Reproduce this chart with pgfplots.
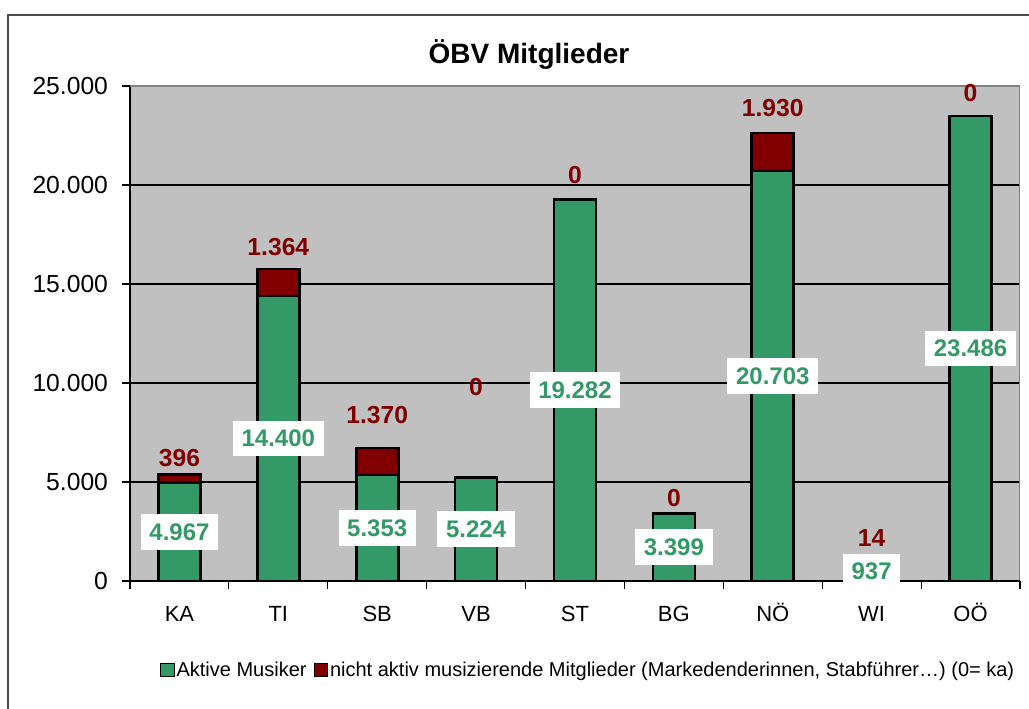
\documentclass[border=0pt]{standalone}
\usepackage{pgfplots}
\usepackage{pgfplotstable}
\pgfplotsset{compat=1.18}
\usepackage{fontspec}
\setmainfont{Liberation Sans}
\definecolor{barGreen}{HTML}{339966}
\definecolor{barRed}{HTML}{800000}
\definecolor{plotGray}{HTML}{C0C0C0}

\pgfplotstableread{
x aktiv nicht
0 4967 396
1 14400 1364
2 5353 1370
3 5224 0
4 19282 0
5 3399 0
6 20703 1930
7 937 14
8 23486 0
}\data

\pgfplotstableread{
x y label
0 2483.5 4.967
1 7200 14.400
2 2676.5 5.353
3 2612 5.224
4 9641 19.282
5 1699.5 3.399
6 10351.5 20.703
7 468.5 937
8 11743 23.486
}\greenlabels

\pgfplotstableread{
x y label
0 6212 396
1 16870 1.364
2 8384 1.370
3 9798 0
4 20505 0
5 4192 0
6 23889 1.930
7 2172 14
8 24646 0
}\redlabels

\begin{document}
\begin{tikzpicture}
\path[use as bounding box] (0,0) rectangle (771.75pt,531.75pt);
\draw[color=black!70, line width=1pt] (6pt,0) -- (6pt,520.5pt) -- (771.75pt,520.5pt);
\node[font=\bfseries\fontsize{21}{24}\selectfont] at (396.75pt,490.5pt) {ÖBV Mitglieder};

\begin{axis}[
  at={(97.5pt,96pt)}, anchor=south west,
  scale only axis, width=667.5pt, height=371.25pt,
  xmin=-0.5, xmax=8.5, ymin=0, ymax=25000,
  ybar stacked, bar width=31.5pt,
  axis background/.style={fill=plotGray},
  axis x line*=bottom, axis y line*=left,
  axis line style={black, line width=1pt, -},
  xtick={0,...,8},
  xticklabels={KA,TI,SB,VB,ST,BG,NÖ,WI,OÖ},
  xtick style={draw=none},
  xticklabel style={font=\fontsize{16.5}{18}\selectfont, anchor=base, yshift=-24.5pt},
  ytick={0,5000,10000,15000,20000,25000},
  scaled y ticks=false,
  /pgf/number format/.cd, 1000 sep={.}, assume math mode=true, /pgfplots/.cd,
  yticklabel style={font=\fontsize{18.5}{20}\selectfont, xshift=-7pt},
  ytick style={black, line width=0.8pt},
  tick align=outside, major tick length=6pt,
  ymajorgrids, major grid style={black, line width=0.8pt},
  legend style={at={(0.515,-0.18)}, anchor=center, draw=none, fill=none,
    legend columns=2, font=\fontsize{15}{17}\selectfont,
    nodes={inner xsep=1.5pt},
    /tikz/every even column/.append style={column sep=4pt}},
  legend image code/.code={\draw[#1, line width=0.6pt, draw=black] (0pt,-5pt) rectangle (10pt,5pt);},
]
\addplot[fill=barGreen, draw=black, line width=2pt] table[x=x,y=aktiv]{\data};
\addlegendentry{Aktive Musiker}
\addplot[fill=barRed, draw=black, line width=2pt] table[x=x,y=nicht]{\data};
\addlegendentry{nicht aktiv musizierende Mitglieder (Markedenderinnen, Stabführer…) (0= ka)}
\draw[color=black!50, line width=1pt] (rel axis cs:0,1) -- (rel axis cs:1,1) -- (rel axis cs:1,0);
\end{axis}

\begin{axis}[
  at={(97.5pt,96pt)}, anchor=south west,
  scale only axis, width=667.5pt, height=371.25pt,
  xmin=-0.5, xmax=8.5, ymin=0, ymax=25000,
  axis y line=none, axis x line*=bottom,
  axis line style={black, line width=1pt, -},
  xtick={-0.5,0.5,1.5,2.5,3.5,4.5,5.5,6.5,7.5,8.5},
  xticklabels={},
  tick align=outside, major tick length=6pt,
  xtick style={black, line width=0.8pt},
  clip=false,
]
\addplot[draw=none, nodes near coords, point meta=explicit symbolic,
  nodes near coords style={anchor=center, fill=white, text=barGreen,
    font=\bfseries\fontsize{18}{20}\selectfont, inner xsep=6.5pt, inner ysep=7pt}]
  table[x=x,y=y,meta=label]{\greenlabels};
\addplot[draw=none, nodes near coords, point meta=explicit symbolic,
  nodes near coords style={anchor=center, text=barRed,
    font=\bfseries\fontsize{18.5}{20}\selectfont}]
  table[x=x,y=y,meta=label]{\redlabels};
\end{axis}
\end{tikzpicture}
\end{document}
